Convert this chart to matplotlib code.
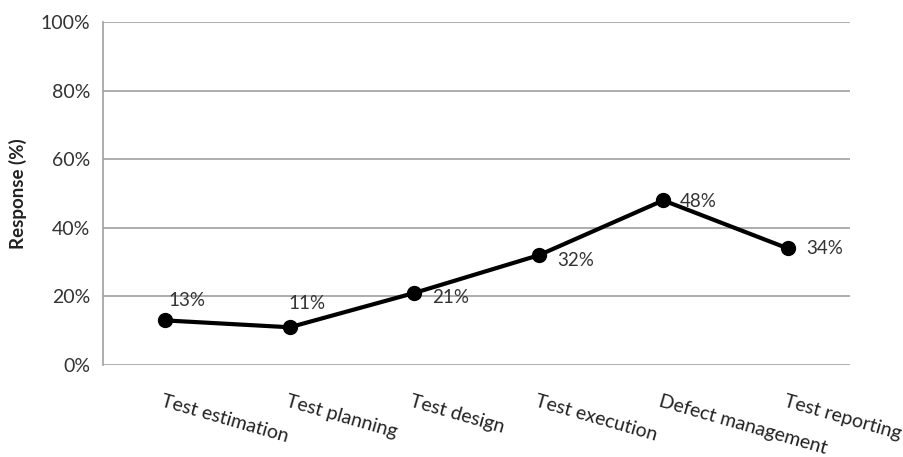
import matplotlib
matplotlib.use("Agg")
import matplotlib.pyplot as plt
from matplotlib.ticker import FuncFormatter

categories = ["Test estimation", "Test planning", "Test design", "Test execution",
              "Defect management", "Test reporting"]
values = [13, 11, 21, 32, 48, 34]
y_ticks = [0, 20, 40, 60, 80, 100]

plt.rcParams['font.family'] = ['Lato', 'DejaVu Sans']

fig = plt.figure(figsize=(9.04, 4.57), dpi=100)
ax = fig.add_axes([103/904, 1 - 365/457, (850-103)/904, (365-22)/457])

x = [i + 0.5 for i in range(len(categories))]
ax.plot(x, values, color='black', lw=3, marker='o', ms=10, zorder=3)

ax.set_xlim(0, len(categories))
ax.set_ylim(0, 100)
ax.set_yticks(y_ticks)
ax.yaxis.set_major_formatter(FuncFormatter(lambda v, p: f"{v:.0f}%"))
ax.grid(axis='y', color='#a0a0a0', lw=1.2)
ax.set_axisbelow(True)
for s in ['top', 'right', 'bottom']:
    ax.spines[s].set_visible(False)
ax.spines['left'].set_color('#a0a0a0')
ax.spines['left'].set_linewidth(1.2)
ax.tick_params(axis='y', length=0, pad=9, labelsize=14, labelcolor='#333333')
ax.set_xticks(x)
ax.set_xticklabels([])
ax.tick_params(axis='x', length=0)

# rotated category labels
for xi, c in zip(x, categories):
    ax.annotate(c, xy=(xi, 0), xycoords='data', xytext=(-1, -20),
                textcoords='offset points', rotation=-16, rotation_mode='anchor',
                ha='left', va='top', fontsize=14, color='#222222')

ax.set_ylabel("Response (%)", fontsize=13.5, fontweight='bold', labelpad=10, color='#222222')

offsets = [(2, 14), (-1, 17), (13, -3), (13, -4), (12, -1), (13, 0)]
for xi, v, off in zip(x, values, offsets):
    ax.annotate(f"{v}%", xy=(xi, v), xytext=off, textcoords='offset points',
                ha='left', va='center', fontsize=13.5, color='#333333')

fig.savefig("out.png", dpi=100)
